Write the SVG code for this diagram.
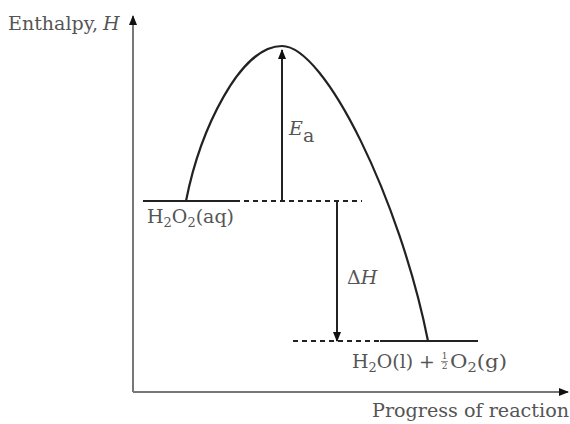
<svg xmlns="http://www.w3.org/2000/svg" width="570" height="424" viewBox="0 0 570 424">
<defs>
<style>
.t{font-family:"DejaVu Serif","Liberation Serif",serif;fill:#555;font-size:19px}
.i{font-style:italic}
.s{font-size:13px}
.f{font-size:9px;text-anchor:middle}
.ax{stroke:#777;stroke-width:2;fill:none}
.lv{stroke:#222;stroke-width:2.2;fill:none}
.ds{stroke:#222;stroke-width:2;stroke-dasharray:5 4;fill:none}
.ar{stroke:#222;stroke-width:2;fill:none}
</style>
<marker id="ah" viewBox="0 0 10 10" refX="9" refY="5" markerWidth="10" markerHeight="10" markerUnits="userSpaceOnUse" orient="auto">
<path d="M0,1 L10,5 L0,9 Z" fill="#111"/>
</marker>
</defs>
<rect width="570" height="424" fill="#fff"/>
<g id="axes">
<line class="ax" x1="133" y1="392" x2="133" y2="16" marker-end="url(#ah)"/>
<line class="ax" x1="133" y1="392" x2="568" y2="392" marker-end="url(#ah)"/>
<text class="t" x="8" y="30" textLength="90" lengthAdjust="spacingAndGlyphs">Enthalpy,</text>
<text class="t i" x="103" y="30">H</text>
<text class="t" x="372" y="417" textLength="197" lengthAdjust="spacingAndGlyphs">Progress of reaction</text>
</g>
<g id="reactants">
<line class="lv" x1="143" y1="201" x2="235" y2="201"/>
<text class="t" x="147" y="223" textLength="87" lengthAdjust="spacingAndGlyphs">H<tspan class="s" dy="4">2</tspan><tspan dy="-4">O</tspan><tspan class="s" dy="4">2</tspan><tspan dy="-4">(aq)</tspan></text>
</g>
<g id="products">
<line class="lv" x1="380" y1="341" x2="478" y2="341"/>
<text class="t" x="352" y="368" textLength="83" lengthAdjust="spacingAndGlyphs">H<tspan class="s" dy="4">2</tspan><tspan dy="-4">O(l) +</tspan></text>
<text class="t f" x="444.5" y="359">1</text>
<line x1="441" y1="361.5" x2="448" y2="361.5" stroke="#777" stroke-width="0.8"/>
<text class="t f" x="444.5" y="369">2</text>
<text class="t" x="450" y="368" textLength="57" lengthAdjust="spacingAndGlyphs">O<tspan class="s" dy="4">2</tspan><tspan dy="-4">(g)</tspan></text>
</g>
<g id="connectors">
<path class="lv" d="M186,201 C200,130 240,46 282,46 C325,46 400,200 428,341"/>
<line class="ds" x1="235" y1="201" x2="362" y2="201"/>
<line class="ds" x1="293" y1="341" x2="380" y2="341"/>
<line class="ar" x1="282" y1="201" x2="282" y2="50" marker-end="url(#ah)"/>
<line class="ar" x1="337" y1="201" x2="337" y2="341" marker-end="url(#ah)"/>
</g>
<g id="labels">
<text class="t i" x="289" y="135" font-size="22">E</text>
<text class="t" x="303" y="142" font-size="13">a</text>
<text class="t" x="347" y="284" font-size="21">Δ<tspan class="i">H</tspan></text>
</g>
</svg>
